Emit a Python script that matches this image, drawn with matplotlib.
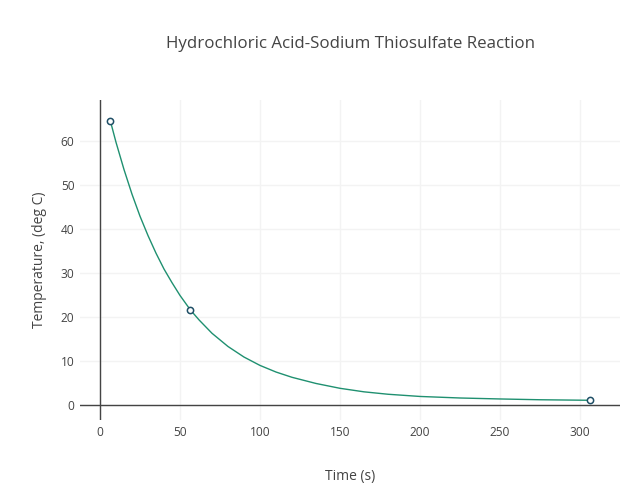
import matplotlib.pyplot as plt

# measured points (markers)
time_pts = [6.5, 56.5, 306]
temp_pts = [64.5, 21.6, 1.1]

# fitted curve
curve_x = [6.5, 10, 15, 20, 25, 30, 35, 40, 45, 50, 56.5, 62, 70, 80, 90, 100,
           110, 120, 135, 150, 165, 180, 200, 225, 250, 275, 306]
curve_y = [64.5, 59.7, 53.5, 47.9, 42.9, 38.5, 34.5, 30.9, 27.8, 24.9, 21.6, 19.3,
           16.3, 13.3, 10.9, 9.0, 7.5, 6.3, 4.9, 3.8, 3.0, 2.45, 1.95, 1.6, 1.38,
           1.2, 1.08]

xticks = [0, 50, 100, 150, 200, 250, 300]
yticks = [0, 10, 20, 30, 40, 50, 60]

plt.rcParams['font.family'] = ['Open Sans', 'DejaVu Sans']
text_color = '#444444'

fig = plt.figure(figsize=(6.31, 5), dpi=100)
ax = fig.add_axes([80 / 631, 0.16, 540 / 631, 0.64])

ax.plot(curve_x, curve_y, color='#1f9070', linewidth=1.0, zorder=3)
ax.plot(time_pts, temp_pts, linestyle='none', marker='o', markersize=4.5,
        markerfacecolor='white', markeredgecolor='#1f4f66', markeredgewidth=1.1, zorder=4)

ax.set_xlim(-12.5, 325)
ax.set_ylim(-3.4, 69.3)
ax.set_xticks(xticks)
ax.set_yticks(yticks)
ax.grid(True, color='#f3f3f3', linewidth=1)
ax.set_axisbelow(True)
ax.axhline(0, color=text_color, linewidth=1, zorder=2)
ax.axvline(0, color=text_color, linewidth=1, zorder=2)

for s in ax.spines.values():
    s.set_visible(False)
ax.tick_params(length=0, labelsize=8.6, colors=text_color, pad=4)

ax.set_xlabel('Time (s)', fontsize=10, color=text_color, labelpad=22)
ax.set_ylabel('Temperature, (deg C)', fontsize=10, color=text_color, labelpad=10)
fig.text(350 / 631, 1 - 44 / 500, 'Hydrochloric Acid-Sodium Thiosulfate Reaction',
         ha='center', va='center', fontsize=12.2, color=text_color)

fig.savefig('out.png', dpi=100)
